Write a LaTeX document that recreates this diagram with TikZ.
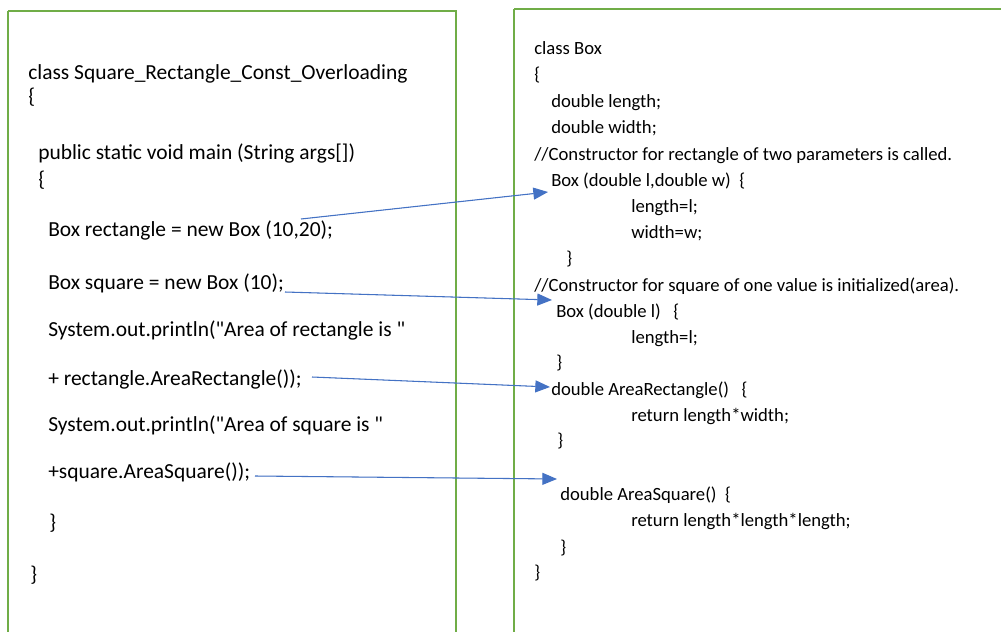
\documentclass[tikz,border=0pt]{standalone}
\usepackage{fontspec}
\newfontfamily\codefont{Carlito}
\usetikzlibrary{arrows.meta}
\definecolor{panelgreen}{HTML}{70AD47}
\definecolor{callblue}{HTML}{4472C4}
\tikzset{
  panel/.style={draw=panelgreen, line width=1.6pt},
  codeline/.style={anchor=mid west, inner sep=0pt, yshift=-2.6pt},
  maincode/.style={codeline, font=\codefont\fontsize{16.1}{19}\selectfont},
  boxcode/.style={codeline, font=\codefont\fontsize{14}{17}\selectfont},
  call/.style={draw=callblue, line width=0.8pt, -{Triangle[length=11pt,width=9pt]}, fill=callblue}
}
\begin{document}
\begin{tikzpicture}[x=0.75pt, y=-0.75pt]
  \useasboundingbox (0,0) rectangle (1001,632);
  \fill[white] (0,0) rectangle (1001,632);

  % the two panels
  \draw[panel] (8,11) -- (8,650) (8,11) -- (456,11) -- (456,650);
  \draw[panel] (514,9) -- (514,650) (514,9) -- (1020,9);

  % main program
  \node[maincode] (l1)  at (28,73)  {class Square\_Rectangle\_Const\_Overloading};
  \node[maincode] (l2)  at (28,97)  {\{};
  \node[maincode] (l3)  at (38,153) {public static void main (String args[])};
  \node[maincode] (l4)  at (38,180) {\{};
  \node[maincode] (l5)  at (48,230) {Box rectangle = new Box (10,20);};
  \node[maincode] (l6)  at (48,283) {Box square = new Box (10);};
  \node[maincode] (l7)  at (48,330) {System.out.println("Area of rectangle is "};
  \node[maincode] (l8)  at (48,379) {+ rectangle.AreaRectangle());};
  \node[maincode] (l9)  at (48,425) {System.out.println("Area of square is "};
  \node[maincode] (l10) at (48,472) {+square.AreaSquare());};
  \node[maincode] (l11) at (49,523) {\}};
  \node[maincode] (l12) at (30,575) {\}};

  % class Box
  \node[boxcode] (r1)  at (534,48)  {class Box};
  \node[boxcode] (r2)  at (534,74)  {\{};
  \node[boxcode] (r3)  at (551,101) {double length;};
  \node[boxcode] (r4)  at (551,127) {double width;};
  \node[boxcode] (r5)  at (534,154) {//Constructor for rectangle of two parameters is called.};
  \node[boxcode] (r6)  at (551,180) {Box (double l,double w)\ \ \{};
  \node[boxcode] (r7)  at (631,206) {length=l;};
  \node[boxcode] (r8)  at (631,232) {width=w;};
  \node[boxcode] (r9)  at (566,258) {\}};
  \node[boxcode] (r10) at (534,285) {//Constructor for square of one value is initialized(area).};
  \node[boxcode] (r11) at (556,311) {Box (double l)\ \ \ \{};
  \node[boxcode] (r12) at (631,337) {length=l;};
  \node[boxcode] (r13) at (556,362) {\}};
  \node[boxcode] (r14) at (551,389) {double AreaRectangle()\ \ \ \{};
  \node[boxcode] (r15) at (631,415) {return length*width;};
  \node[boxcode] (r16) at (557,440) {\}};
  \node[boxcode] (r17) at (560,494) {double AreaSquare()\ \ \{};
  \node[boxcode] (r18) at (631,520) {return length*length*length;};
  \node[boxcode] (r19) at (560,547) {\}};
  \node[boxcode] (r20) at (534,572) {\}};

  % call sites and the code they reach
  \coordinate (s1) at (301,219);
  \coordinate (t1) at (548,192);
  \coordinate (s2) at (285,292);
  \coordinate (t2) at (552,300);
  \coordinate (s3) at (312,377);
  \coordinate (t3) at (550,387);
  \coordinate (s4) at (255,476);
  \coordinate (t4) at (557,479);

  \draw[call] (s1) -- (t1);
  \draw[call] (s2) -- (t2);
  \draw[call] (s3) -- (t3);
  \draw[call] (s4) -- (t4);
\end{tikzpicture}
\end{document}
